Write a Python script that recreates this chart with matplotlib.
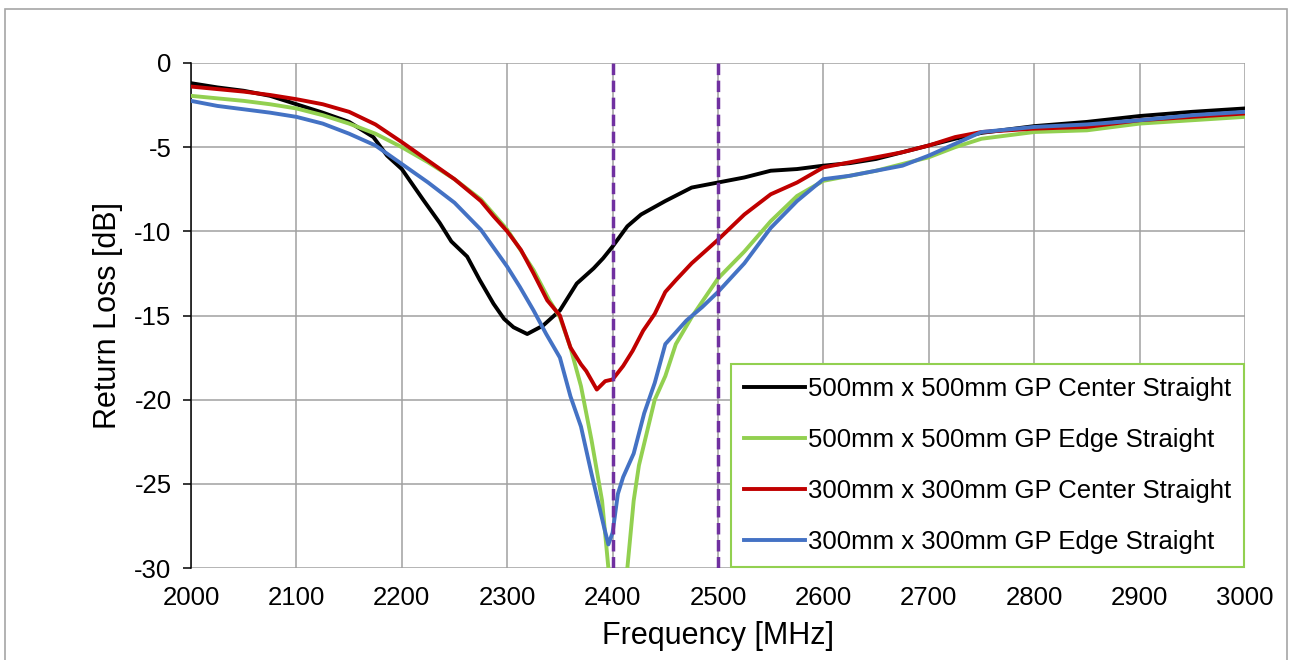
import matplotlib
matplotlib.use("Agg")
import matplotlib.pyplot as plt
from matplotlib.patches import Rectangle

plt.rcParams["font.family"] = ["Liberation Sans", "DejaVu Sans"]
plt.rcParams["axes.unicode_minus"] = False

# 500mm x 500mm GP Center Straight
f_c500 = [2000, 2025, 2050, 2075, 2100, 2125, 2150, 2173, 2186, 2200, 2220, 2236, 2247,
          2262, 2274, 2287, 2297, 2306, 2319, 2334, 2350, 2366, 2382, 2391, 2400, 2414,
          2427, 2450, 2475, 2500, 2525, 2550, 2575, 2600, 2625, 2650, 2675, 2700, 2725,
          2750, 2775, 2800, 2850, 2900, 2950, 3000]
rl_c500 = [-1.2, -1.45, -1.65, -1.95, -2.45, -2.95, -3.5, -4.4, -5.5, -6.3, -8.1, -9.5, -10.6,
           -11.5, -12.9, -14.3, -15.2, -15.7, -16.1, -15.6, -14.7, -13.1, -12.2, -11.6, -10.9, -9.7,
           -9.0, -8.2, -7.4, -7.1, -6.8, -6.4, -6.3, -6.1, -5.95, -5.7, -5.3, -4.9, -4.5,
           -4.15, -3.95, -3.75, -3.5, -3.15, -2.9, -2.7]

# 500mm x 500mm GP Edge Straight
f_e500 = [2000, 2025, 2050, 2075, 2100, 2125, 2150, 2175, 2200, 2225, 2250, 2275, 2300,
          2325, 2340, 2350, 2360, 2370, 2380, 2390, 2396, 2405, 2414, 2420, 2425, 2440,
          2450, 2460, 2475, 2500, 2525, 2550, 2575, 2600, 2625, 2650, 2675, 2700, 2725,
          2750, 2775, 2800, 2850, 2900, 2950, 3000]
rl_e500 = [-1.95, -2.1, -2.25, -2.45, -2.7, -3.1, -3.6, -4.2, -5.0, -5.9, -6.9, -8.1, -9.9,
           -12.3, -14.1, -15.1, -16.9, -19.2, -22.4, -26.0, -30.0, -34.0, -30.0, -26.0, -23.9, -20.0,
           -18.6, -16.7, -15.1, -12.8, -11.2, -9.4, -7.9, -7.0, -6.7, -6.4, -6.0, -5.6, -5.0,
           -4.5, -4.3, -4.1, -4.0, -3.6, -3.4, -3.2]

# 300mm x 300mm GP Center Straight
f_c300 = [2000, 2025, 2050, 2075, 2100, 2125, 2150, 2175, 2200, 2225, 2250, 2275, 2287,
          2300, 2313, 2325, 2338, 2350, 2360, 2370, 2375, 2385, 2393, 2400, 2410, 2419,
          2429, 2440, 2450, 2460, 2475, 2500, 2525, 2550, 2575, 2600, 2625, 2650, 2675,
          2700, 2725, 2750, 2775, 2800, 2850, 2900, 2950, 3000]
rl_c300 = [-1.4, -1.55, -1.7, -1.9, -2.15, -2.45, -2.9, -3.65, -4.7, -5.8, -6.9, -8.2, -9.1,
           -10.0, -11.1, -12.5, -14.1, -15.0, -16.9, -17.9, -18.3, -19.4, -18.9, -18.8, -18.0, -17.1,
           -15.9, -14.9, -13.6, -12.9, -11.9, -10.5, -9.0, -7.8, -7.1, -6.2, -5.9, -5.6, -5.3,
           -4.9, -4.4, -4.1, -4.0, -3.9, -3.8, -3.4, -3.2, -3.0]

# 300mm x 300mm GP Edge Straight
f_e300 = [2000, 2025, 2050, 2075, 2100, 2125, 2150, 2175, 2200, 2225, 2250, 2275, 2300,
          2312, 2325, 2337, 2350, 2360, 2370, 2380, 2386, 2392, 2396, 2400, 2405, 2410,
          2420, 2430, 2440, 2450, 2460, 2470, 2485, 2500, 2525, 2550, 2575, 2600, 2625,
          2650, 2675, 2700, 2725, 2750, 2775, 2800, 2850, 2900, 2950, 3000]
rl_e300 = [-2.25, -2.55, -2.75, -2.95, -3.2, -3.6, -4.2, -4.9, -6.0, -7.1, -8.3, -9.9, -12.1,
           -13.3, -14.7, -16.1, -17.5, -19.8, -21.6, -24.4, -26.0, -27.6, -28.6, -27.9, -25.6, -24.6,
           -23.2, -20.8, -19.0, -16.7, -16.0, -15.3, -14.5, -13.6, -11.9, -9.8, -8.2, -6.9, -6.7,
           -6.4, -6.1, -5.5, -4.8, -4.1, -3.95, -3.8, -3.65, -3.4, -3.1, -2.9]

series = [
    ("500mm x 500mm GP Center Straight", f_c500, rl_c500, "#000000"),
    ("500mm x 500mm GP Edge Straight", f_e500, rl_e500, "#92D050"),
    ("300mm x 300mm GP Center Straight", f_c300, rl_c300, "#C00000"),
    ("300mm x 300mm GP Edge Straight", f_e300, rl_e300, "#4472C4"),
]
markers_mhz = [2400, 2500]
x_ticks = list(range(2000, 3001, 100))
y_ticks = [0, -5, -10, -15, -20, -25, -30]

fig = plt.figure(figsize=(12.9, 6.6), dpi=100)
ax = fig.add_axes([191 / 1290, 1 - 568 / 660, (1245 - 191) / 1290, (568 - 63) / 660])

# chart area border (bottom edge is cut off in the original)
fig.patches.append(Rectangle((5 / 1290, -0.05), (1287 - 5) / 1290, 1.05 - 9 / 660,
                             transform=fig.transFigure, fill=False,
                             edgecolor="#A6A6A6", linewidth=1.2))

for label, f, rl, color in series:
    ax.plot(f, rl, color=color, linewidth=2.8, label=label, zorder=3,
            solid_joinstyle="round")

for m in markers_mhz:
    ax.axvline(m, color="#7030A0", linewidth=2.5, linestyle=(0, (3.3, 1.6)), zorder=4)

ax.set_xlim(2000, 3000)
ax.set_ylim(-30, 0)
ax.set_xticks(x_ticks)
ax.set_yticks(y_ticks)
ax.grid(True, color="#A0A0A0", linewidth=1.1)
ax.set_axisbelow(True)

for side in ["top", "right", "bottom"]:
    ax.spines[side].set_visible(False)
ax.spines["left"].set_color("black")
ax.spines["left"].set_linewidth(1.1)

ax.tick_params(axis="y", direction="out", length=6, width=1.1, pad=8, labelsize=18.5)
ax.tick_params(axis="x", length=0, pad=13, labelsize=18.5)

ax.set_xlabel("Frequency [MHz]", fontsize=22, labelpad=8)
ax.set_ylabel("Return Loss [dB]", fontsize=22, labelpad=8)

leg = ax.legend(loc="lower right", fontsize=18.5, frameon=True, fancybox=False,
                borderaxespad=0.05, handlelength=2.4, handletextpad=0.1,
                labelspacing=1.05, borderpad=0.5)
leg.get_frame().set_edgecolor("#92D050")
leg.get_frame().set_linewidth(1.5)
leg.get_frame().set_alpha(1)
leg.set_zorder(5)

fig.savefig("out.png", dpi=100)
